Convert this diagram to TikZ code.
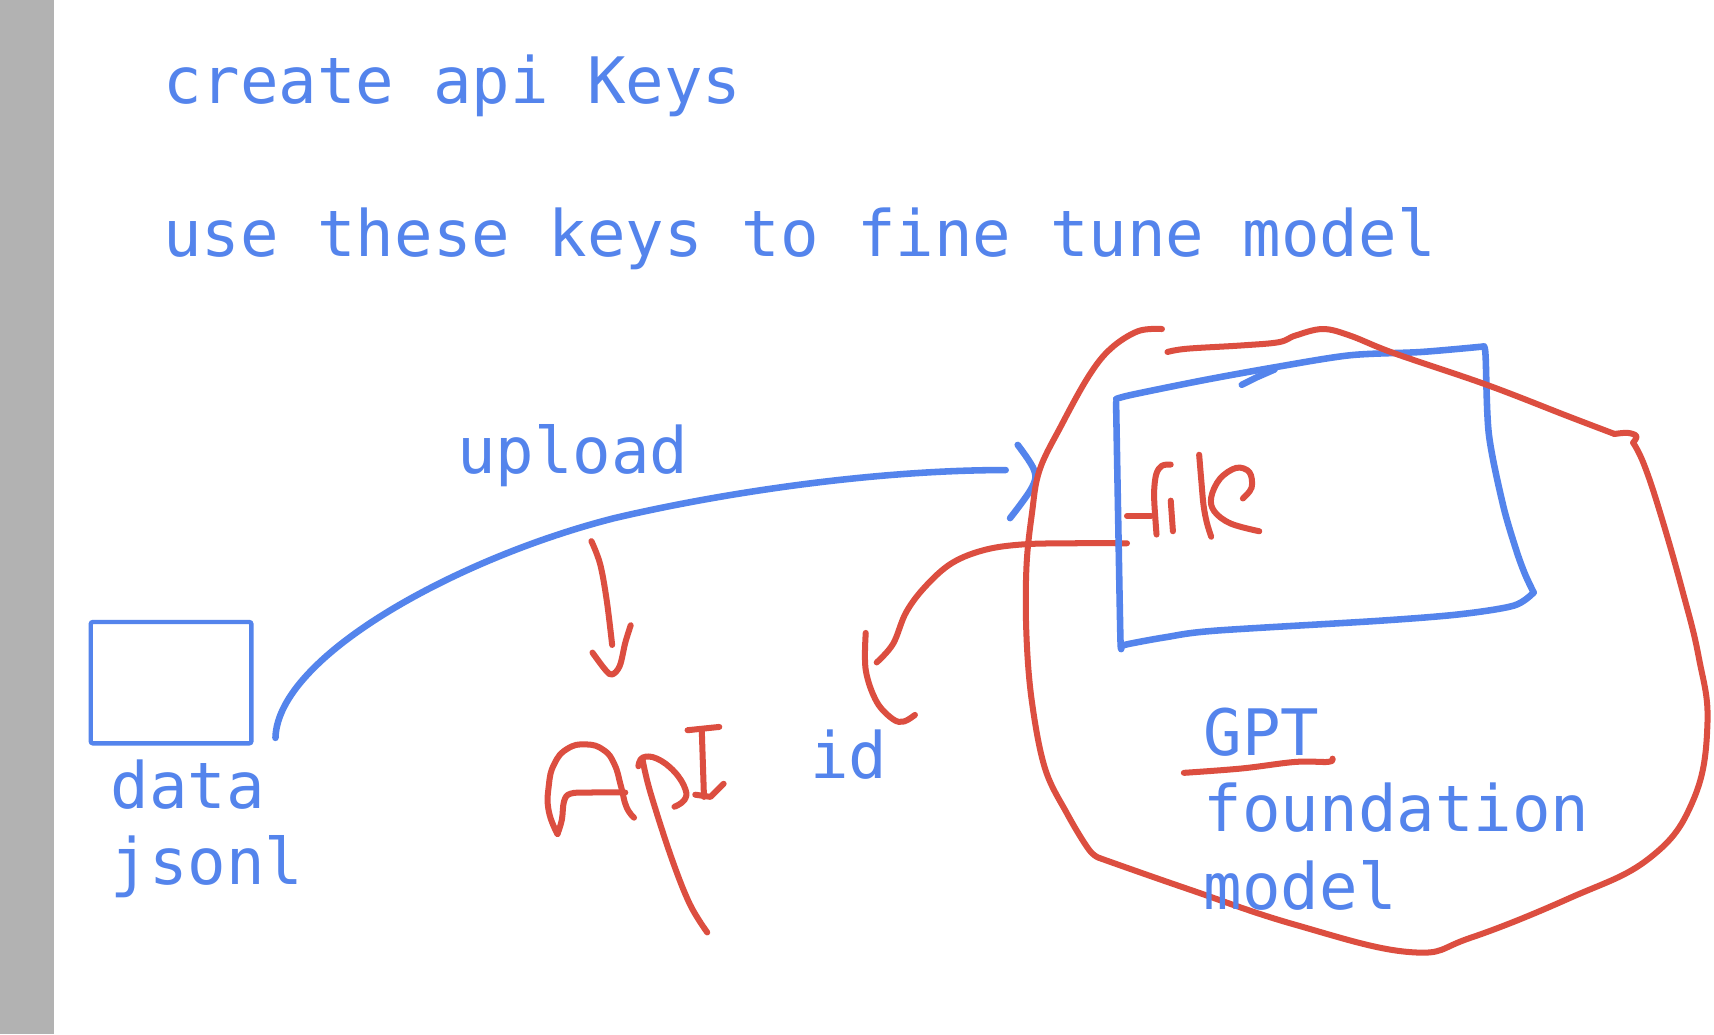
\documentclass[tikz,border=0pt]{standalone}
\usepackage{fontspec}
\setmonofont{DejaVu Sans Mono}
\usepackage{tikz}
\usetikzlibrary{calc}

\definecolor{penblue}{RGB}{84,132,236}
\definecolor{penred}{RGB}{220,78,64}
\definecolor{sidebar}{RGB}{178,178,178}

\begin{document}
\begin{tikzpicture}[
    x=1pt, y=-1pt,
    txt/.style={anchor=base west, inner sep=0pt, text=penblue,
                font=\fontsize{58.6}{70}\selectfont\ttfamily},
    bluepen/.style={draw=penblue, line width=6pt, line cap=round, line join=round},
    redpen/.style={draw=penred, line width=5.5pt, line cap=round, line join=round},
    databox/.style={rectangle, draw=penblue, line width=4pt, rounded corners=2pt,
                    minimum width=147pt, minimum height=111pt, inner sep=0pt},
  ]

  %% ===== PAGE =====
  \useasboundingbox (0,0) rectangle (1568,946);
  \fill[white] (0,0) rectangle (1568,946);
  \fill[sidebar] (0,0) rectangle (49,946);

  %% ===== HEADINGS =====
  \node[txt] (title) at (149,95)  {create api Keys};
  \node[txt] (usage) at (149,235) {use these keys to fine tune model};

  %% ===== DATA (left) =====
  \node[databox] (data) at (156.5,624.5) {};
  \node[txt] (datalbl)  at (101,740) {data};
  \node[txt] (jsonlbl)  at (101,809) {jsonl};

  %% upload arrow: data -> file
  \coordinate (upstart) at (252,675);
  \coordinate (upmid)   at (562,474);
  \coordinate (upend)   at (920,430);
  \node[txt] (uplbl) at (418,433) {upload};
  \draw[bluepen] (upstart) .. controls (254,600) and (420,510) .. (upmid)
                 .. controls (662,450.5) and (800,430) .. (upend);
  \draw[bluepen] plot[smooth, tension=0.6] coordinates {
      (931,407) (946,430) (944,446) (924,474)};

  %% ===== API (middle) =====
  \draw[redpen] plot[smooth, tension=0.6] coordinates {
      (541,495) (549,516) (555,549) (560,590)};
  \draw[redpen] plot[smooth, tension=0.6] coordinates {
      (542,597) (554,613) (560,617) (567,609) (572,588) (577,572)};

  %% handwritten API
  \draw[redpen] plot[smooth, tension=0.8] coordinates {
      (580,748) (573,738) (568,719) (562,699) (552,686) (536,681) (519,685)
      (507,699) (502,719) (502,742) (510,763)};
  \draw[redpen] plot[smooth, tension=0.6] coordinates {
      (510,763) (514,750) (516,733) (522,726) (540,725) (572,725)};
  \draw[redpen] plot[smooth, tension=0.7] coordinates {
      (584,701) (588,693) (601,694) (617,706) (627,722) (626,732) (617,738)};
  \draw[redpen] plot[smooth, tension=0.6] coordinates {
      (588,696) (595,725) (614,784) (631,827) (647,853)};
  \draw[redpen] (629,668) -- (658,665);
  \draw[redpen] (642,668) -- (644,729);
  \draw[redpen] (636,727) -- (650,729) -- (662,717);

  %% ===== ID =====
  \node[txt] (idlbl) at (741,712) {id};
  \coordinate (idtip) at (802,606);
  \draw[redpen] plot[smooth, tension=0.6] coordinates {
      (1031,497) (980,497) (936,498) (901,503) (871,515) (847,536)
      (829,560) (817,589) (idtip)};
  \draw[redpen] plot[smooth, tension=0.6] coordinates {
      (792,579) (792,613) (802,642) (817,658) (827,660) (837,654)};

  %% ===== FILE + MODEL (right) =====
  %% file box
  \draw[bluepen] plot[smooth, tension=0.5] coordinates {
      (1021,365) (1036,361) (1100,348) (1166,336) (1235,325) (1300,322) (1357,317)};
  \draw[bluepen] plot[smooth, tension=0.5] coordinates {
      (1357,317) (1359,325) (1362,397) (1375,462) (1387,503) (1395,525) (1403,542)};
  \draw[bluepen] plot[smooth, tension=0.5] coordinates {
      (1403,542) (1385,554) (1335,562) (1260,568) (1111,577) (1066,583)
      (1033,589) (1026,591)};
  \draw[bluepen] plot[smooth, tension=0.5] coordinates {
      (1026,591) (1025,585) (1023,479) (1021,368)};
  \draw[bluepen] (1136,352) -- (1150,345) -- (1166,338);

  %% handwritten file
  \draw[redpen] plot[smooth, tension=0.6] coordinates {
      (1058,489) (1056,460) (1056,446) (1058,433) (1063,426) (1071,425)};
  \draw[redpen] (1031,472) -- (1053,472);
  \draw[redpen] (1071,458) -- (1073,486);
  \draw[redpen] plot[smooth, tension=0.6] coordinates {
      (1097,416) (1099,440) (1101,462) (1104,478) (1108,491)};
  \draw[redpen] plot[smooth, tension=0.6] coordinates {
      (1137,456) (1145,446) (1143,432) (1131,428) (1116,438) (1108,455)
      (1111,468) (1126,479) (1152,486)};

  %% model outline
  \draw[redpen] plot[smooth, tension=0.6] coordinates {
      (1063,301) (1041,303) (1016,319) (996,344) (971,389) (951,430)
      (944,470) (939,519) (939,581) (944,642) (956,703) (976,744)
      (996,777) (1006,785)};
  \draw[redpen] plot[smooth, tension=0.7] coordinates {
      (1006,785) (1086,813) (1185,846) (1290,871) (1345,858) (1435,822)
      (1509,785) (1549,732) (1562,662) (1554,601) (1539,540) (1519,470)
      (1504,425) (1494,405)};
  \draw[redpen] plot[smooth, tension=0.6] coordinates {
      (1494,405) (1497,399) (1489,396) (1477,397)};
  \draw[redpen] plot[smooth, tension=0.6] coordinates {
      (1477,397) (1435,381) (1360,352) (1275,323) (1235,307) (1210,301)
      (1185,307) (1170,313) (1136,316) (1086,319) (1068,322)};

  %% model label
  \node[txt] (gptlbl)   at (1101,691) {GPT};
  \node[txt] (foundlbl) at (1101,761) {foundation};
  \node[txt] (modellbl) at (1101,832) {model};
  \draw[redpen] plot[smooth, tension=0.6] coordinates {
      (1083,707) (1136,703) (1185,697) (1215,697) (1219,694)};

\end{tikzpicture}
\end{document}
